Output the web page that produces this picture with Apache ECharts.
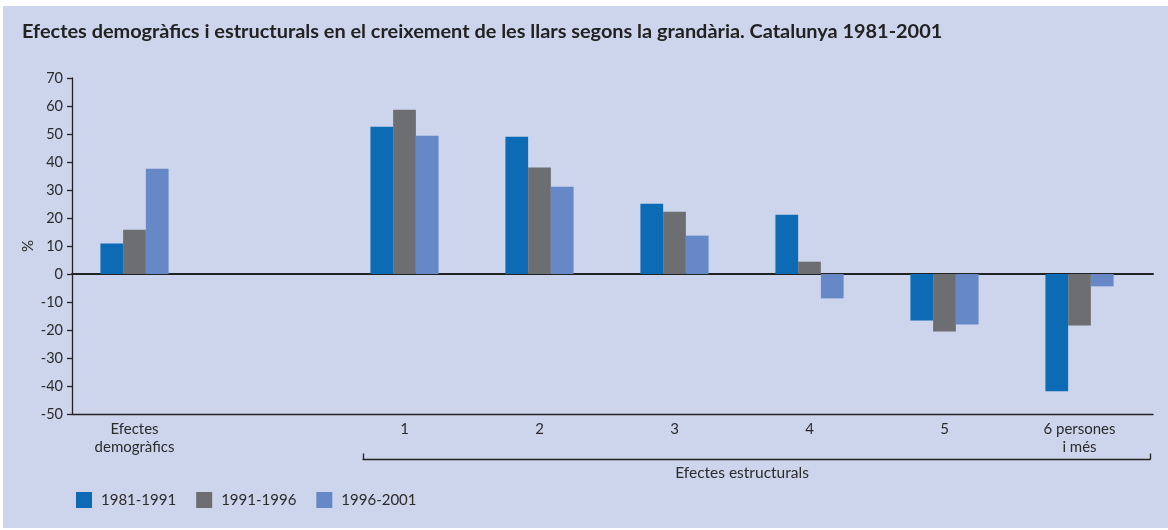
<!DOCTYPE html>
<html>
<head>
<meta charset="utf-8">
<script src="https://cdn.jsdelivr.net/npm/echarts@6/dist/echarts.min.js"></script>
<style>
    html, body { margin: 0; padding: 0; background: #fff; }
    #panel { position: absolute; left: 3px; top: 6px; right: 0; bottom: 2px; background: #cdd5ec; }
    #chart { position: absolute; left: 0; top: 0; width: 1168px; height: 530px; }
</style>
</head>
<body>
<div id="panel"></div>
<div id="chart"></div>
<script>
// categories (the empty one is the gap between the two groups)
const categories = ['Efectes\ndemogràfics', '', '1', '2', '3', '4', '5', '6 persones\ni més'];
const periods = ['1981-1991', '1991-1996', '1996-2001'];

// values in %
const v1981_1991 = [10.9, null, 52.6, 49.0, 25.1, 21.2, -16.6, -41.9];
const v1991_1996 = [15.8, null, 58.7, 38.0, 22.2, 4.4, -20.5, -18.4];
const v1996_2001 = [37.6, null, 49.4, 31.2, 13.7, -8.7, -18.0, -4.4];

const yTicks = { min: -50, max: 70, interval: 10 };

const colors = ['#0c6bb4', '#6d6e71', '#6688c7'];
const font = 'Lato, "Open Sans", sans-serif';
const textColor = '#2b2b2b';
const lineColor = '#222';

const chart = echarts.init(document.getElementById('chart'));

const barSeries = [v1981_1991, v1991_1996, v1996_2001].map((data, i) => ({
    name: periods[i],
    type: 'bar',
    xAxisIndex: 0,
    yAxisIndex: 0,
    data: data,
    itemStyle: { color: colors[i] },
    barGap: '0%',
    barCategoryGap: '49.5%',
    emphasis: { disabled: true }
}));

// small helper for the bracket's end ticks (drawn as axis lines)
const bracketEnd = (pos) => ({
    gridIndex: 2,
    type: 'value',
    position: pos,
    axisLine: { show: true, lineStyle: { color: lineColor, width: 1.3 } },
    axisTick: { show: false },
    axisLabel: { show: false },
    splitLine: { show: false }
});

const option = {
    animation: false,
    title: [{
        text: 'Efectes demogràfics i estructurals en el creixement de les llars segons la grandària. Catalunya 1981-2001',
        left: 22,
        top: 22,
        padding: 0,
        textStyle: { fontFamily: font, fontSize: 19.9, fontWeight: 'bold', color: '#222' }
    }, {
        text: 'Efectes estructurals',
        left: 742,
        top: 465,
        padding: 0,
        textAlign: 'center',
        textStyle: { fontFamily: font, fontSize: 15.5, fontWeight: 'normal', color: textColor }
    }],
    legend: {
        left: 76,
        top: 492,
        padding: 0,
        itemWidth: 16,
        itemHeight: 16,
        itemGap: 20,
        icon: 'rect',
        selectedMode: false,
        textStyle: { fontFamily: font, fontSize: 15, color: textColor, padding: [0, 0, 0, 4] },
        data: periods
    },
    grid: [
        // bars
        { left: 67, width: 1080, top: 78, height: 336 },
        // axis frame
        { left: 72, width: 1081, top: 78, height: 336 },
        // bracket under the structural categories
        { left: 363, width: 787, top: 454, height: 5 }
    ],
    xAxis: [{
        gridIndex: 0,
        type: 'category',
        data: categories,
        axisLine: { show: false },
        axisTick: { show: false },
        axisLabel: {
            interval: 0,
            margin: 6,
            fontFamily: font,
            fontSize: 15,
            lineHeight: 18,
            color: textColor
        }
    }, {
        gridIndex: 1,
        type: 'value',
        min: 0, max: 1,
        position: 'bottom',
        axisLine: { onZero: false, lineStyle: { color: lineColor, width: 1.3 } },
        axisTick: { show: false },
        axisLabel: { show: false },
        splitLine: { show: false }
    }, {
        gridIndex: 1,
        type: 'value',
        min: 0, max: 1,
        position: 'top',
        axisLine: { onZero: true, lineStyle: { color: lineColor, width: 2 } },
        axisTick: { show: false },
        axisLabel: { show: false },
        splitLine: { show: false }
    }, {
        gridIndex: 2,
        type: 'value',
        min: 0, max: 1,
        position: 'bottom',
        axisLine: { onZero: false, lineStyle: { color: lineColor, width: 1.3 } },
        axisTick: { show: false },
        axisLabel: { show: false },
        splitLine: { show: false }
    }],
    yAxis: [{
        gridIndex: 0,
        type: 'value',
        min: yTicks.min, max: yTicks.max, interval: yTicks.interval,
        show: false
    }, {
        gridIndex: 1,
        type: 'value',
        min: yTicks.min, max: yTicks.max, interval: yTicks.interval,
        name: '%',
        nameLocation: 'middle',
        nameGap: 36,
        nameRotate: 90,
        nameMoveOverlap: false,
        nameTextStyle: { fontFamily: font, fontSize: 15, color: textColor },
        axisLine: { show: true, lineStyle: { color: lineColor, width: 1.3 } },
        axisTick: { show: true, length: 5, lineStyle: { color: lineColor, width: 1.3 } },
        axisLabel: { margin: 9, fontFamily: font, fontSize: 14.5, color: textColor },
        splitLine: { show: false }
    }, bracketEnd('left'), bracketEnd('right')],
    series: barSeries
};

chart.setOption(option);
</script>
</body>
</html>
